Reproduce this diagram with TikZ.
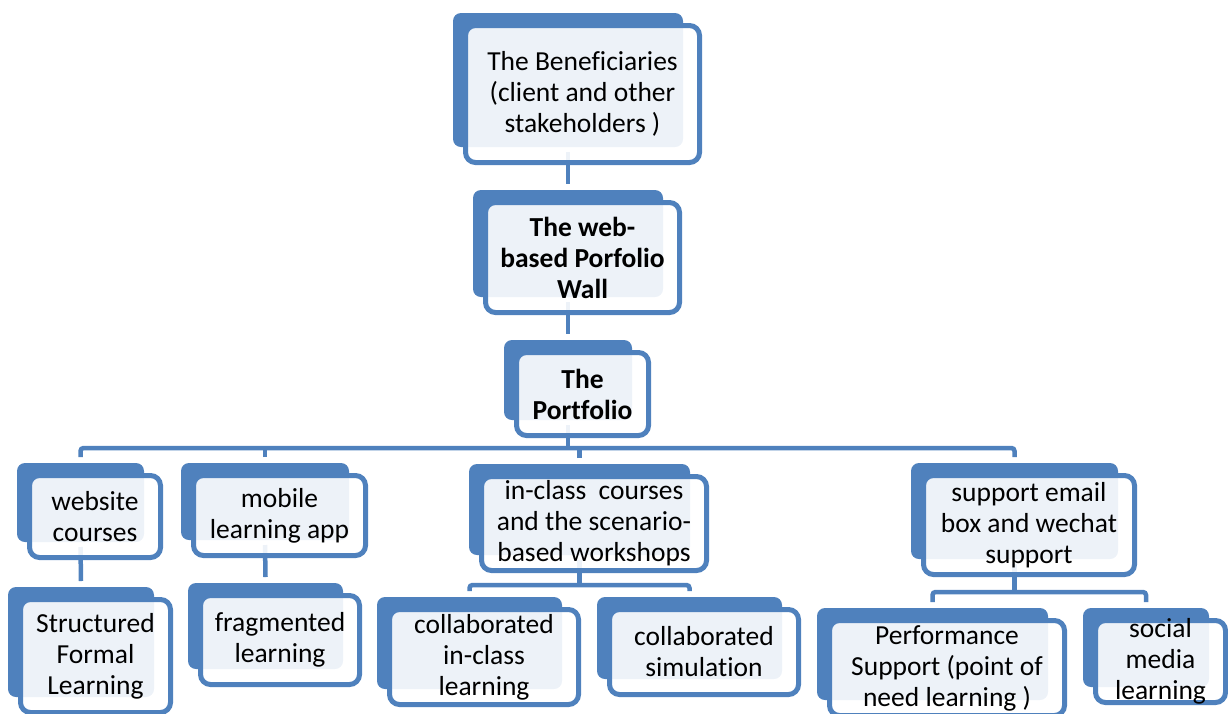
\documentclass[tikz,border=0pt]{standalone}
\usepackage{fontspec}
\setmainfont{Carlito}[Ligatures=NoCommon]
\definecolor{boxblue}{HTML}{4F81BD}
\pgfdeclarelayer{links}
\pgfdeclarelayer{behind}
\pgfsetlayers{links,behind,main}
\tikzset{
	front/.style={draw=boxblue, line width=5pt, fill=white, fill opacity=0.9, rounded corners=10pt, inner sep=0pt, outer sep=0pt},
	back/.style={fill=boxblue, rounded corners=8pt},
	link/.style={draw=boxblue, line width=4.5pt},
	txt/.style={font=\fontsize{27.5}{31}\selectfont, align=center, inner sep=0pt}
}
\def\pfbox(#1)(#2,#3)(#4:#5){%
	\node[front, minimum width=#4pt, minimum height=#5pt] (#1) at (#2,#3) {};
	\begin{pgfonlayer}{behind}
		\fill[back] ([shift={(-12.5,-12.5)}]#1.north west) rectangle ([shift={(-16.5,-15.5)}]#1.south east);
	\end{pgfonlayer}
	\coordinate (#1-t) at ([shift={(-14.5,-18.5)}]#1.north);
	\coordinate (#1-b) at ([shift={(-14.5,-10.5)}]#1.south);
}

\begin{document}
\begin{tikzpicture}[x=1pt, y=-1pt]
			%%%%% START %%%%%
			\useasboundingbox (0,0) rectangle (1228,713);
			
			\pfbox(ben)(582.5,94)(234:137);
			\pfbox(wall)(582.5,257.5)(194:110);
			\pfbox(port)(582.5,394)(132:83);
			
			\pfbox(web)(95,516.5)(131:82);
			\pfbox(mob)(279.5,515.5)(172:80);
			\pfbox(inc)(594,523.5)(225:94);
			\pfbox(sup)(1029,525)(211:99);
			
			\pfbox(str)(95.5,656)(150:113);
			\pfbox(frag)(280,640)(159:89);
			\pfbox(cil)(484,657)(189:95);
			\pfbox(sim)(704,652)(189:85);
			\pfbox(perf)(947,668)(235:95);
			\pfbox(soc)(1160.5,661.5)(130:82);
			
			\node[txt] at (ben) {The Beneficiaries\\(client and other\\stakeholders )};
			\node[txt, font=\fontsize{27.5}{31}\selectfont\bfseries] at (wall) {The web-\\based Porfolio\\Wall};
			\node[txt, font=\fontsize{27.5}{31}\selectfont\bfseries] at (port) {The\\Portfolio};
			\node[txt] at (web) {website\\courses};
			\node[txt] at (mob) {mobile\\learning app};
			\node[txt] at (inc) {in-class\ \ courses\\and the scenario-\\based workshops};
			\node[txt] at (sup) {support email\\box and wechat\\support};
			\node[txt] at (str) {Structured\\Formal\\Learning};
			\node[txt] at (frag) {fragmented\\learning};
			\node[txt] at (cil) {collaborated\\in-class\\learning};
			\node[txt] at (sim) {collaborated\\simulation};
			\node[txt] at (perf) {Performance\\Support (point of\\need learning )};
			\node[txt] at (soc) {social\\media\\learning};
			
			\begin{pgfonlayer}{links}
				\draw[link] (ben-b) -- (wall-t);
				\draw[link] (wall-b) -- (port-t);
				
				\draw[link, rounded corners=3pt] (web-t) -- ++(0,-9) coordinate (bus) -| (sup-t);
				\draw[link] (port-b) -- (port-b |- bus);
				\draw[link] (mob-t) -- (mob-t |- bus);
				\draw[link] (inc-t) -- (inc-t |- bus);
				
				\draw[link] (web-b) -- (str-t);
				\draw[link] (mob-b) -- (frag-t);
				
				\draw[link, rounded corners=3pt] (cil-t) -- ++(0,-6) coordinate (incbus) -| (sim-t);
				\draw[link] (inc-b) -- (inc-b |- incbus);
				
				\draw[link, rounded corners=3pt] (perf-t) -- ++(0,-10) coordinate (supbus) -| (soc-t);
				\draw[link] (sup-b) -- (sup-b |- supbus);
			\end{pgfonlayer}
			
			%%%%% END %%%%%
\end{tikzpicture}
\end{document}
